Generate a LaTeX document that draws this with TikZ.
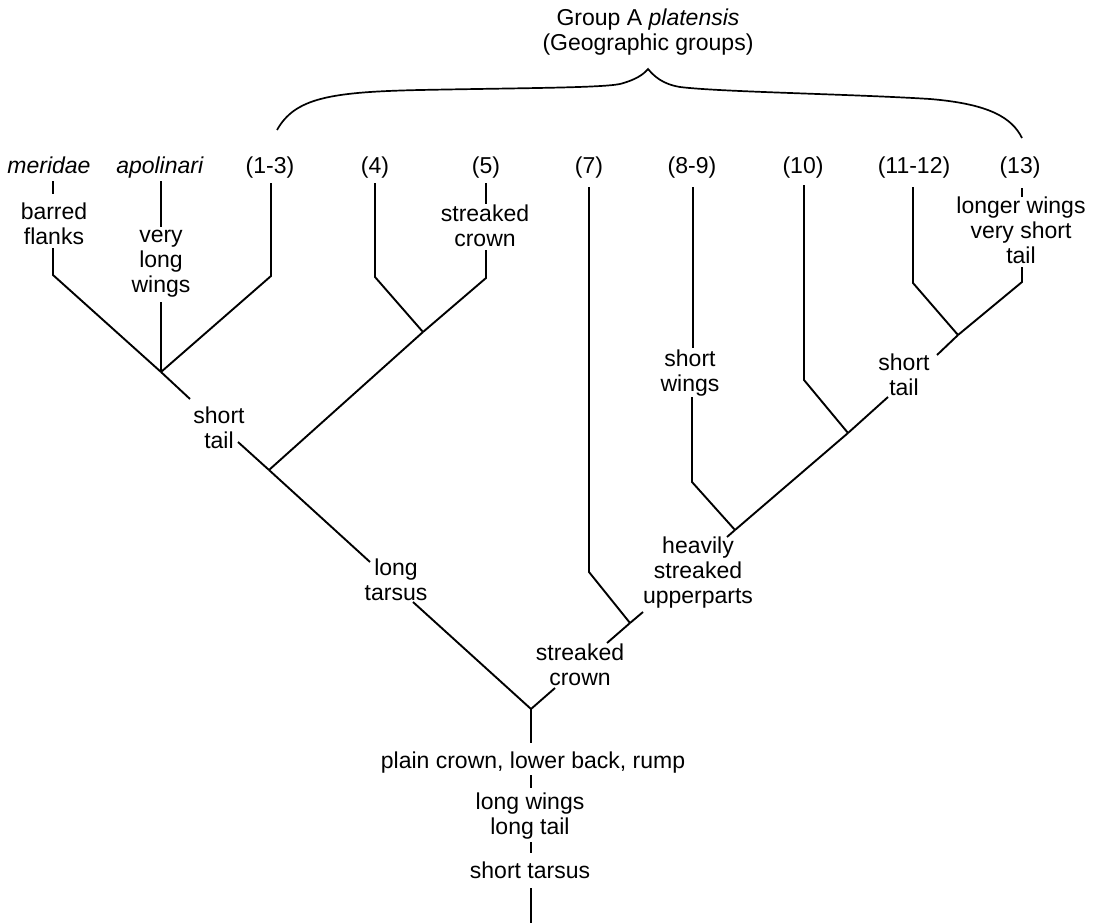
\documentclass[tikz,border=0pt]{standalone}
\usepackage{fontspec}
\setmainfont{Liberation Sans}
\begin{document}
\begin{tikzpicture}[x=1pt,y=-1pt,
  lbl/.style={align=center, inner sep=0pt, font=\fontsize{23}{25}\selectfont},
  twig/.style={line width=1.9pt, line join=miter},
  bracestyle/.style={line width=1.7pt}]
\useasboundingbox (0,0) rectangle (1105,923);
% junctions
\coordinate (J1) at (161,372);
\coordinate (J2) at (423,332);
\coordinate (J3) at (269,470);
\coordinate (R) at (531,709);
\coordinate (J4) at (630,623);
\coordinate (J5) at (735,530);
\coordinate (J6) at (848,433);
\coordinate (J7) at (958,335);
% title and brace
\node[lbl] (title) at (648,32) {Group A \textit{platensis}\\(Geographic groups)};
\coordinate (bl) at (277,130);
\coordinate (bp) at (648,69);
\coordinate (bR) at (1022,138);
\draw[bracestyle] (bl) .. controls (295,98) and (330,92) .. (420,90)
  .. controls (520,88) and (600,88) .. (620,84)
  .. controls (635,80) and (643,75) .. (bp)
  .. controls (654,76) and (662,84) .. (680,87)
  .. controls (720,92) and (850,94) .. (930,99)
  .. controls (990,104) and (1012,118) .. (bR);
% taxa
\node[lbl,anchor=base] (mer) at (49,173) {\textit{meridae}};
\node[lbl,anchor=base] (apo) at (160,173) {\textit{apolinari}};
\node[lbl,anchor=base] (g13) at (270,173) {(1-3)};
\node[lbl,anchor=base] (g4) at (375,173) {(4)};
\node[lbl,anchor=base] (g5) at (486,173) {(5)};
\node[lbl,anchor=base] (g7) at (589,173) {(7)};
\node[lbl,anchor=base] (g89) at (692,173) {(8-9)};
\node[lbl,anchor=base] (g10) at (803,173) {(10)};
\node[lbl,anchor=base] (g1112) at (914,173) {(11-12)};
\node[lbl,anchor=base] (g13b) at (1020,173) {(13)};
% characters
\node[lbl] (bf) at (54,224) {barred\\flanks};
\node[lbl] (vlw) at (161,264) {very\\long\\wings};
\node[lbl] (sc5) at (485,226) {streaked\\crown};
\node[lbl] (st1) at (219,428) {short\\tail};
\node[lbl] (lt) at (396,580) {long\\tarsus};
\node[lbl] (sc7) at (580,665) {streaked\\crown};
\node[lbl] (hsu) at (698,573) {heavily\\streaked\\upperparts};
\node[lbl] (sw) at (690,373) {short\\wings};
\node[lbl] (st2) at (904,375) {short\\tail};
\node[lbl] (lw13) at (1021,230) {longer wings\\very short\\tail};
\node[lbl] (pc) at (533,763) {plain crown, lower back, rump};
\node[lbl] (lwlt) at (530,816) {long wings\\long tail};
\node[lbl] (sta) at (530,870) {short tarsus};
% branches
\draw[twig] (53,181) -- (53,194);
\draw[twig] (53,248) -- (53,275) -- (J1);
\draw[twig] (161,181) -- (161,227);
\draw[twig] (161,302) -- (J1);
\draw[twig] (271,183) -- (271,276) -- (J1);
\draw[twig] (J1) -- (190,399);
\draw[twig] (238,442) -- (J3);
\draw[twig] (375,183) -- (375,277) -- (J2);
\draw[twig] (486,183) -- (486,204);
\draw[twig] (486,250) -- (486,278) -- (J2);
\draw[twig] (J2) -- (J3);
\draw[twig] (J3) -- (370,562);
\draw[twig] (413,602) -- (R);
\draw[twig] (589,187) -- (589,572) -- (J4);
\draw[twig] (J4) -- (607,643);
\draw[twig] (555,688) -- (R);
\draw[twig] (J5) -- (727,537);
\draw[twig] (643,612) -- (J4);
\draw[twig] (693,187) -- (693,348);
\draw[twig] (692,397) -- (692,482) -- (J5);
\draw[twig] (804,185) -- (804,380) -- (J6);
\draw[twig] (J6) -- (J5);
\draw[twig] (J6) -- (888,397);
\draw[twig] (937,355) -- (J7);
\draw[twig] (913,187) -- (913,283) -- (J7);
\draw[twig] (1022,188) -- (1022,197);
\draw[twig] (1022,267) -- (1022,282) -- (J7);
\draw[twig] (R) -- (531,743);
\draw[twig] (531,775) -- (531,788);
\draw[twig] (531,842) -- (531,853);
\draw[twig] (531,888) -- (531,923);
\end{tikzpicture}
\end{document}
